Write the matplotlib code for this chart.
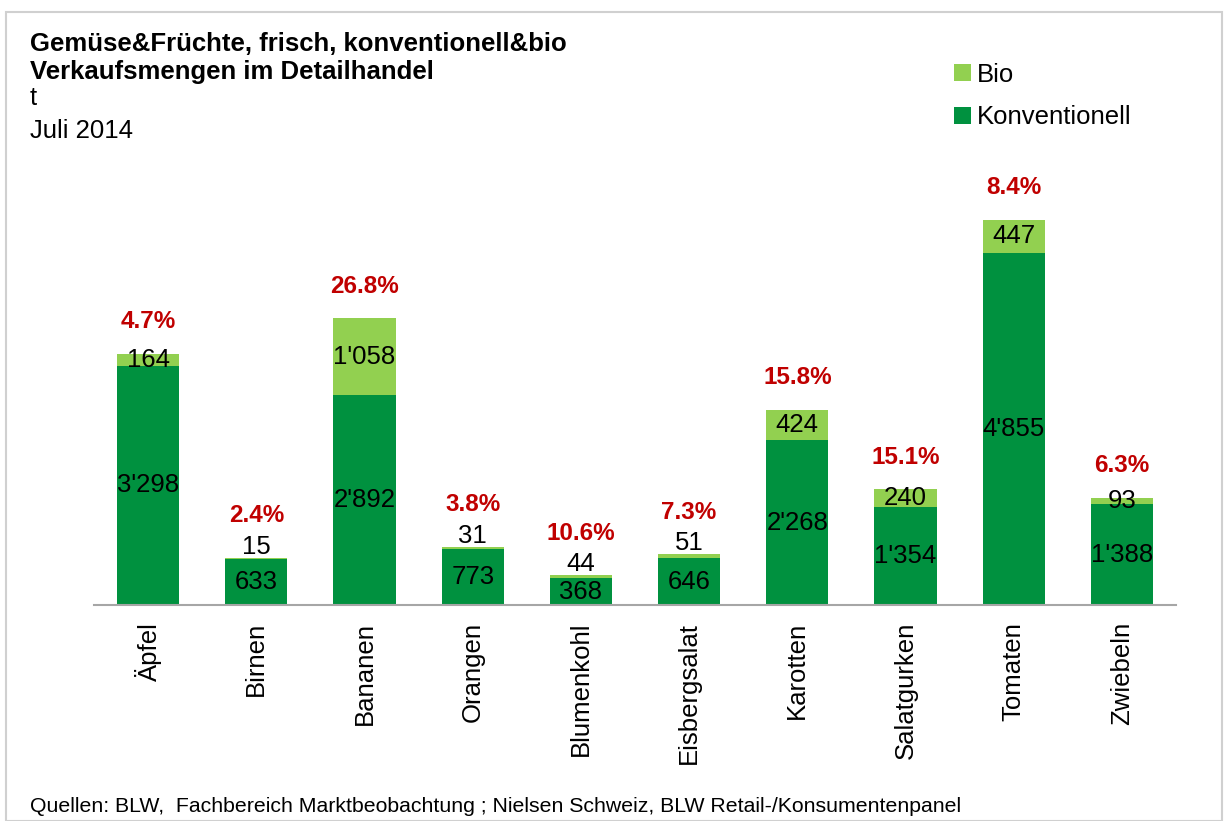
import numpy as np
import matplotlib as mpl
mpl.use("Agg")
import matplotlib.pyplot as plt
from matplotlib.patches import Rectangle

plt.rcParams["font.family"] = ["Liberation Sans", "DejaVu Sans"]

categories = ["Äpfel", "Birnen", "Bananen", "Orangen", "Blumenkohl",
              "Eisbergsalat", "Karotten", "Salatgurken", "Tomaten", "Zwiebeln"]
konv = [3298, 633, 2892, 773, 368, 646, 2268, 1354, 4855, 1388]
bio = [164, 15, 1058, 31, 44, 51, 424, 240, 447, 93]
bio_share = ["4.7%", "2.4%", "26.8%", "3.8%", "10.6%",
             "7.3%", "15.8%", "15.1%", "8.4%", "6.3%"]

green_dark = "#00913F"
green_light = "#92D050"
red = "#C00000"


def fmt(v):
    # Swiss thousands separator
    return "{:,}".format(v).replace(",", "'")


fig = plt.figure(figsize=(12.24, 8.21), dpi=100)
ax = fig.add_axes([0.0768, 0.263, 0.884, 0.542])

x = np.arange(len(categories))
konv = np.array(konv)
bio = np.array(bio)
b1 = ax.bar(x, konv, width=0.575, color=green_dark, label="Konventionell")
b2 = ax.bar(x, bio, width=0.575, bottom=konv, color=green_light, label="Bio")

ax.set_xlim(-0.5, len(categories) - 0.5)
ax.set_ylim(0, 6130)
for s in ["top", "right", "left"]:
    ax.spines[s].set_visible(False)
ax.spines["bottom"].set_color("#A6A6A6")
ax.spines["bottom"].set_linewidth(1.5)
ax.set_yticks([])
ax.set_xticks(x)
ax.set_xticklabels(categories, rotation=90, fontsize=18.5)
ax.tick_params(axis="x", length=0, pad=12)

for i in range(len(categories)):
    ax.text(x[i], konv[i] / 2, fmt(konv[i]), ha="center", va="center",
            fontsize=18.5, color="black")
    top = konv[i] + bio[i]
    if bio[i] < 60:
        ax.annotate(fmt(bio[i]), (x[i], top), xytext=(0, 8),
                    textcoords="offset points", ha="center", va="center",
                    fontsize=18.5)
        off = 22
    else:
        ax.text(x[i], konv[i] + bio[i] / 2, fmt(bio[i]), ha="center",
                va="center", fontsize=18.5)
        off = 15
    ax.annotate(bio_share[i], (x[i], top), xytext=(0, off),
                textcoords="offset points", ha="center", va="bottom",
                fontsize=17.5, fontweight="bold", color=red)

fig.text(0.0245, 0.947, "Gemüse&Früchte, frisch, konventionell&bio",
         fontsize=18.5, fontweight="bold", va="center")
fig.text(0.0245, 0.912, "Verkaufsmengen im Detailhandel",
         fontsize=18.5, fontweight="bold", va="center")
fig.text(0.0245, 0.881, "t", fontsize=18.5, va="center")
fig.text(0.0245, 0.841, "Juli 2014", fontsize=18.5, va="center")
fig.text(0.0245, 0.018, "Quellen: BLW,  Fachbereich Marktbeobachtung ; "
         "Nielsen Schweiz, BLW Retail-/Konsumentenpanel",
         fontsize=15.3, va="center")

fig.legend([b2, b1], ["Bio", "Konventionell"], loc="upper left",
           bbox_to_anchor=(0.771, 0.936), frameon=False, fontsize=18.5,
           handlelength=0.65, handleheight=0.65, handletextpad=0.25,
           labelspacing=0.72, borderaxespad=0)

fig.patches.append(Rectangle((0.005, 0.0), 0.993, 0.985, transform=fig.transFigure,
                             fill=False, edgecolor="#D0D0D0", linewidth=1.5))

fig.savefig("out.png", dpi=100)
